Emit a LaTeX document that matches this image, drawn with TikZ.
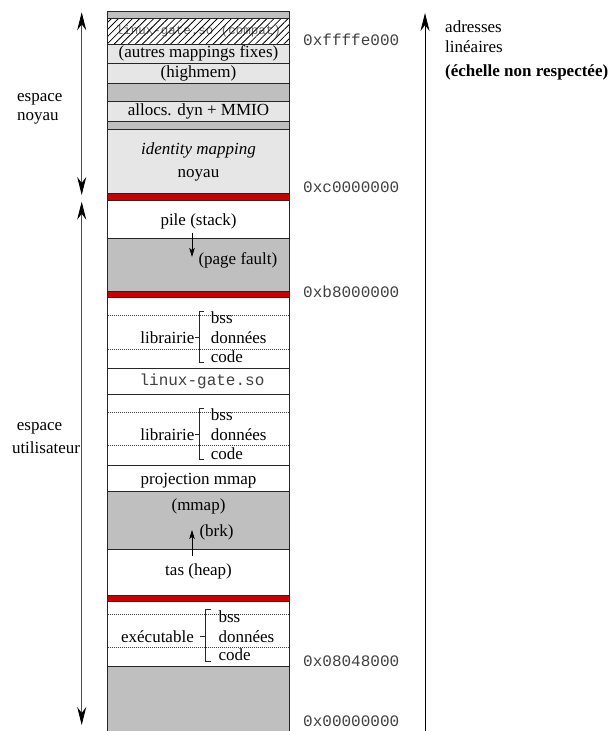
\documentclass[tikz,border=0pt]{standalone}
\usepackage{fontspec}
\setmainfont{Liberation Serif}
\setmonofont{Liberation Mono}
\usetikzlibrary{arrows.meta,patterns.meta}
\definecolor{lgray}{RGB}{230,230,230}
\definecolor{dgray}{RGB}{191,191,191}
\definecolor{kred}{RGB}{200,0,0}
\newcommand\memrow[3]{\filldraw[rowline,fill=#3] (107.5,#1) rectangle (289.5,#2);}
\begin{document}
\begin{tikzpicture}[x=1pt,y=-1pt,
  every node/.style={font=\fontsize{17}{19}\selectfont, inner sep=0pt},
  rowline/.style={draw=black!85, line width=0.8pt},
  dotline/.style={draw=black!75, line width=0.5pt, dash pattern=on 1pt off 1pt},
  brack/.style={draw=black!85, line width=0.6pt},
  addr/.style={anchor=west, font=\fontsize{16}{18}\selectfont\ttfamily, text=black!75},
  bigtip/.tip={Stealth[length=18pt,width=9pt,inset=6pt,color=black]},
  smalltip/.tip={Stealth[length=9pt,width=5.5pt,inset=2pt]},
  dbl/.style={draw=black!70, line width=0.8pt, {bigtip}-{bigtip}},
]
\useasboundingbox (0,0) rectangle (611,731);

% rows
\memrow{11.7}{18.3}{dgray}
\fill[white] (107.5,18.3) rectangle (289.5,44.3);
\node[font=\fontsize{12.5}{14}\selectfont\ttfamily, text=black!60] (compat) at (198.5,31.5) {linux-gate.so (compat)};
\fill[pattern={Lines[angle=45,distance=5pt,line width=0.8pt]}] (107.5,18.3) rectangle (289.5,44.3);
\draw[rowline] (107.5,18.3) rectangle (289.5,44.3);
\memrow{44.3}{63.3}{lgray}
\memrow{63.3}{83}{lgray}
\memrow{83}{101.7}{dgray}
\memrow{101.7}{121.7}{lgray}
\memrow{121.7}{129}{dgray}
\memrow{129}{193}{lgray}
\memrow{193}{200}{kred}
\memrow{200}{238}{white}
\memrow{238}{291}{dgray}
\memrow{291}{297.7}{kred}
\memrow{297.7}{368}{white}
\memrow{368}{394.3}{white}
\memrow{394.3}{465.7}{white}
\memrow{465.7}{491}{white}
\memrow{491}{549.3}{dgray}
\memrow{549.3}{595}{white}
\memrow{595}{601.7}{kred}
\memrow{601.7}{666}{white}
\filldraw[rowline,fill=dgray] (107.5,740) -- (107.5,666) -- (289.5,666) -- (289.5,740);

% row texts
\node (autres) at (198.5,53.8) {(autres mappings fixes)};
\node (highmem) at (198.5,73.2) {(highmem)};
\node (allocs) at (198.5,111.7) {allocs. dyn + MMIO};
\node (ident) at (198.5,150) {\itshape identity mapping};
\node (noyau) at (198.5,175) {noyau};
\node (pile) at (198.5,221.7) {pile (stack)};
\node[anchor=west] (pf) at (198.3,260.7) {(page fault)};
\node[font=\fontsize{16}{18}\selectfont\ttfamily, text=black!75] (lgate) at (202,381.3) {linux-gate.so};
\node (proj) at (198.5,480.7) {projection mmap};
\node (mmap) at (198.5,506.7) {(mmap)};
\node[anchor=west] (brk) at (199.3,532.7) {(brk)};
\node (tas) at (198.5,571.7) {tas (heap)};

% growth arrows
\coordinate (pfa) at (192,232.7);
\coordinate (pfb) at (192,257);
\draw[line width=0.8pt,-{smalltip}] (pfa) -- (pfb);
\coordinate (bka) at (192,556);
\coordinate (bkb) at (192,530);
\draw[line width=0.8pt,-{smalltip}] (bka) -- (bkb);

% library blocks
\foreach \top/\nm in {297.7/libA, 394.3/libB}{
\begin{scope}[shift={(0,\top)}]
  \draw[dotline] (107.5,18) -- (289.5,18);
  \draw[dotline] (107.5,51.3) -- (289.5,51.3);
  \draw[brack] (204,14) -- (199,14) -- (199,65) -- (204,65);
  \draw[brack] (199,39.8) -- (194.5,39.8);
  \node[anchor=east] (\nm) at (194.5,40.3) {librairie};
  \node[anchor=west] (\nm bss) at (210.7,20.3) {bss};
  \node[anchor=west] (\nm data) at (210.7,40.3) {données};
  \node[anchor=west] (\nm code) at (210.7,59) {code};
\end{scope}
}

% executable block
\begin{scope}[shift={(0,601.7)}]
  \draw[dotline] (107.5,12.6) -- (289.5,12.6);
  \draw[dotline] (107.5,46) -- (289.5,46);
  \draw[brack] (211,7.6) -- (205,7.6) -- (205,60) -- (211,60);
  \draw[brack] (205,34.5) -- (200,34.5);
  \node[anchor=east] (exe) at (194,35) {exécutable};
  \node[anchor=west] (exebss) at (218.3,15) {bss};
  \node[anchor=west] (exedata) at (218.3,35) {données};
  \node[anchor=west] (execode) at (218.3,53.3) {code};
\end{scope}

% addresses
\node[addr] (a1) at (303,40) {0xffffe000};
\node[addr] (a2) at (303,187) {0xc0000000};
\node[addr] (a3) at (303,292) {0xb8000000};
\node[addr] (a4) at (303,661.7) {0x08048000};
\node[addr] (a5) at (303,721) {0x00000000};

% left arrows
\coordinate (k1) at (81.7,12.3);
\coordinate (k2) at (81.7,195);
\draw[dbl] (k1) -- (k2);
\coordinate (u1) at (81.7,201.7);
\coordinate (u2) at (81.7,725);
\draw[dbl] (u1) -- (u2);
\node[anchor=west, align=left, font=\fontsize{17}{18.5}\selectfont] (kspace) at (17,109) {espace\\noyau};
\node (uspace1) at (39.5,428) {espace};
\node (uspace2) at (46,448) {utilisateur};

% right axis
\coordinate (r1) at (425,740);
\coordinate (r2) at (425,13);
\draw[line width=0.8pt,-{bigtip}] (r1) -- (r2);
\node[anchor=west, align=left, font=\fontsize{17}{20}\selectfont] (lin) at (445,37) {adresses\\linéaires};
\node[anchor=west, font=\fontsize{17}{19}\selectfont\bfseries] (scale) at (445,72) {(échelle non respectée)};
\end{tikzpicture}
\end{document}
